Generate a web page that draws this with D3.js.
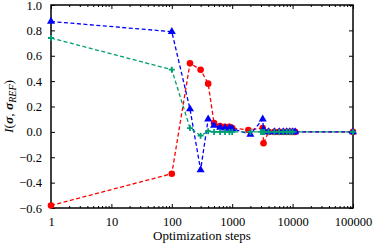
<!DOCTYPE html>
<html>
<head>
<meta charset="utf-8">
<script src="https://cdn.jsdelivr.net/npm/d3@7"></script>
<style>
  body { margin: 0; background: #fff; }
</style>
</head>
<body>
<div id="chart"></div>
<script>
// data
const redSteps = [1, 100, 200, 300, 400, 500, 630, 760, 900, 1000, 1850, 3200, 3300, 4000, 5000, 6000, 7000, 8000, 9000, 10000, 11000, 100000];
const redVals  = [-0.58, -0.33, 0.54, 0.49, 0.38, 0.07, 0.045, 0.04, 0.04, 0.03, 0.015, 0.03, -0.09, 0, 0, 0, 0, 0, 0, 0, 0, 0];

const blueSteps = [1, 100, 200, 300, 400, 500, 630, 760, 900, 1000, 2000, 3200, 3300, 4000, 5000, 6000, 7000, 8000, 9000, 10000, 11000, 100000];
const blueVals  = [0.87, 0.79, 0.18, -0.30, 0.10, 0.05, 0.035, 0.03, 0.03, 0.025, -0.02, 0.10, 0.02, 0, 0, 0, 0, 0, 0, 0, 0, 0];

const greenSteps = [1, 100, 200, 300, 400, 500, 630, 760, 900, 1000, 2000, 3000, 3200, 3400, 4000, 5000, 6000, 7000, 8000, 9000, 10000, 100000];
const greenVals  = [0.74, 0.49, 0.03, -0.03, 0.005, 0, 0, 0, 0, 0, 0, 0, 0, 0, 0, 0, 0, 0, 0, 0, 0, 0];

const xTicks = [1, 10, 100, 1000, 10000, 100000];
const yTicks = [-0.6, -0.4, -0.2, 0.0, 0.2, 0.4, 0.6, 0.8, 1.0];

const FONT = "'Liberation Serif', 'Times New Roman', 'DejaVu Serif', serif";

const W = 374, H = 244;
const margin = {top: 5, right: 21, bottom: 36, left: 51};
const width = W - margin.left - margin.right;
const height = H - margin.top - margin.bottom;

const svg = d3.select("#chart").append("svg")
    .attr("width", W)
    .attr("height", H);

const g = svg.append("g")
    .attr("transform", "translate(" + margin.left + "," + margin.top + ")");

const x = d3.scaleLog().domain([1, 100000]).range([0, width]);
const y = d3.scaleLinear().domain([-0.6, 1.0]).range([height, 0]);

// minor ticks for the log axis
let minor = [];
for (let e = 0; e < 5; e++) {
    for (let k = 2; k < 10; k++) minor.push(k * Math.pow(10, e));
}

const fmtY = d => d3.format(".1f")(d).replace("-", "\u2212");

// bottom axis
g.append("g")
    .attr("transform", "translate(0," + height + ")")
    .call(d3.axisBottom(x).tickValues(xTicks).tickFormat(d3.format("d")).tickSizeInner(-4).tickSizeOuter(0).tickPadding(9))
    .call(a => a.select(".domain").remove())
    .attr("font-family", FONT)
    .selectAll("text").attr("font-size", 12.5).attr("fill", "#000");

g.append("g")
    .attr("transform", "translate(0," + height + ")")
    .call(d3.axisBottom(x).tickValues(minor).tickFormat("").tickSizeInner(-2).tickSizeOuter(0))
    .call(a => a.select(".domain").remove());

// top axis
g.append("g")
    .call(d3.axisTop(x).tickValues(xTicks).tickFormat("").tickSizeInner(-4).tickSizeOuter(0))
    .call(a => a.select(".domain").remove());
g.append("g")
    .call(d3.axisTop(x).tickValues(minor).tickFormat("").tickSizeInner(-2).tickSizeOuter(0))
    .call(a => a.select(".domain").remove());

// left axis
g.append("g")
    .call(d3.axisLeft(y).tickValues(yTicks).tickFormat(fmtY).tickSizeInner(-4).tickSizeOuter(0).tickPadding(9))
    .call(a => a.select(".domain").remove())
    .attr("font-family", FONT)
    .selectAll("text").attr("font-size", 12.5).attr("fill", "#000");

// right axis
g.append("g")
    .attr("transform", "translate(" + width + ",0)")
    .call(d3.axisRight(y).tickValues(yTicks).tickFormat("").tickSizeInner(-4).tickSizeOuter(0))
    .call(a => a.select(".domain").remove());

g.selectAll(".tick line").attr("stroke", "#000").attr("stroke-width", 1);

// frame
g.append("rect")
    .attr("width", width)
    .attr("height", height)
    .attr("fill", "none")
    .attr("stroke", "#000")
    .attr("stroke-width", 1.5);

const series = [
    {steps: redSteps, vals: redVals, color: "#ff0000", shape: "circle"},
    {steps: blueSteps, vals: blueVals, color: "#0000ff", shape: "triangle"},
    {steps: greenSteps, vals: greenVals, color: "#009e73", shape: "plus"}
];

const line = d3.line().x(d => x(d[0])).y(d => y(d[1]));

series.forEach(s => {
    const pts = s.steps.map((st, i) => [st, s.vals[i]]);
    g.append("path")
        .datum(pts)
        .attr("d", line)
        .attr("fill", "none")
        .attr("stroke", s.color)
        .attr("stroke-width", 1.3)
        .attr("stroke-dasharray", "4,2.5");

    if (s.shape === "circle") {
        g.selectAll(null).data(pts).enter().append("circle")
            .attr("cx", d => x(d[0]))
            .attr("cy", d => y(d[1]))
            .attr("r", 3.3)
            .attr("fill", s.color);
    } else if (s.shape === "triangle") {
        g.selectAll(null).data(pts).enter().append("path")
            .attr("transform", d => "translate(" + x(d[0]) + "," + y(d[1]) + ")")
            .attr("d", d3.symbol().type(d3.symbolTriangle).size(28))
            .attr("fill", s.color);
    } else {
        g.selectAll(null).data(pts).enter().append("path")
            .attr("transform", d => "translate(" + x(d[0]) + "," + y(d[1]) + ")")
            .attr("d", "M-3,0H3M0,-3V3")
            .attr("stroke", s.color)
            .attr("stroke-width", 1.8);
    }
});

// axis labels
svg.append("text")
    .attr("x", margin.left + width / 2)
    .attr("y", H - 4)
    .attr("text-anchor", "middle")
    .attr("font-family", FONT)
    .attr("font-size", 13)
    .text("Optimization steps");

const yl = svg.append("text")
    .attr("transform", "translate(13," + (margin.top + y(0.2)) + ") rotate(-90)")
    .attr("text-anchor", "middle")
    .attr("font-family", FONT)
    .attr("font-size", 13.5);
yl.append("tspan").attr("font-style", "italic").text("I");
yl.append("tspan").text("(");
yl.append("tspan").attr("font-weight", "bold").attr("font-style", "italic").text("\u03c3");
yl.append("tspan").text(", ");
yl.append("tspan").attr("font-weight", "bold").attr("font-style", "italic").text("\u03c3");
yl.append("tspan").attr("font-style", "italic").attr("dy", 3).attr("font-size", 10).text("REF");
yl.append("tspan").attr("dy", -3).text(")");
</script>
</body>
</html>
